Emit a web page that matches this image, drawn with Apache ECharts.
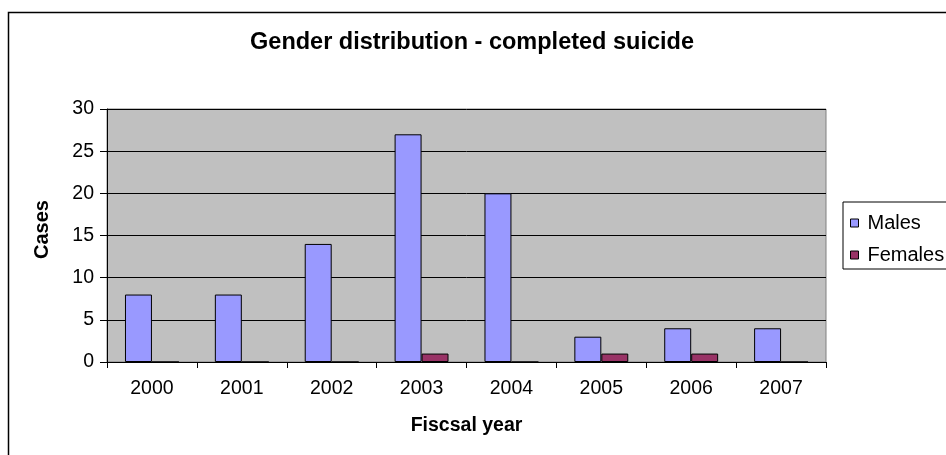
<!DOCTYPE html>
<html>
<head>
<meta charset="utf-8">
<script src="https://cdn.jsdelivr.net/npm/echarts@6/dist/echarts.min.js"></script>
<style>
  html, body { margin: 0; padding: 0; background: #fff; }
  #chart { width: 946px; height: 455px; }
</style>
</head>
<body>
<div id="chart"></div>
<script>
// Completed suicides per fiscal year, split by gender
const fiscalYears = ['2000', '2001', '2002', '2003', '2004', '2005', '2006', '2007'];
const males = [8, 8, 14, 27, 20, 3, 4, 4];
const females = [0, 0, 0, 1, 0, 1, 1, 0];
const yMin = 0, yMax = 30, yStep = 5;

const FONT = "'Liberation Sans', Arial, sans-serif";

const chart = echarts.init(document.getElementById('chart'), null, { renderer: 'canvas' });

chart.setOption({
  animation: false,
  backgroundColor: '#ffffff',
  title: {
    text: 'Gender distribution - completed suicide',
    left: 472,
    top: 31,
    padding: 0,
    textAlign: 'center',
    textStyle: { fontFamily: FONT, fontSize: 23.5, fontWeight: 'bold', color: '#000' }
  },
  legend: {
    orient: 'vertical',
    left: 843,
    top: 202,
    padding: [11, 4, 4, 7],
    borderColor: '#000',
    borderWidth: 1,
    backgroundColor: '#fff',
    itemWidth: 8,
    itemHeight: 8,
    itemGap: 12,
    icon: 'rect',
    itemStyle: { borderColor: '#000', borderWidth: 1 },
    textStyle: { fontFamily: FONT, fontSize: 20, color: '#000', padding: [0, 0, 0, 4] },
    data: ['Males', 'Females']
  },
  grid: {
    left: 107,
    right: 120,
    top: 109,
    bottom: 93,
    show: true,
    backgroundColor: '#C0C0C0',
    borderColor: '#808080',
    borderWidth: 1,
    containLabel: false
  },
  xAxis: {
    type: 'category',
    data: fiscalYears,
    boundaryGap: true,
    name: 'Fiscsal year',
    nameLocation: 'middle',
    nameGap: 54,
    nameTextStyle: { fontFamily: FONT, fontSize: 19.5, fontWeight: 'bold', color: '#000' },
    axisLine: { show: true, lineStyle: { color: '#000', width: 1 } },
    axisTick: { show: true, length: 6, lineStyle: { color: '#000' } },
    axisLabel: { fontFamily: FONT, fontSize: 19.5, color: '#000', margin: 17 },
    splitLine: { show: false }
  },
  yAxis: {
    type: 'value',
    min: yMin,
    max: yMax,
    interval: yStep,
    axisLine: { show: true, lineStyle: { color: '#000', width: 1 } },
    axisTick: { show: true, length: 7, lineStyle: { color: '#000' } },
    axisLabel: { fontFamily: FONT, fontSize: 19.5, color: '#000', margin: 13 },
    splitLine: { show: true, lineStyle: { color: '#000', width: 1 } }
  },
  series: [
    {
      name: 'Males',
      type: 'bar',
      data: males,
      barCategoryGap: '40%',
      barGap: '0%',
      itemStyle: { color: '#9999FF', borderColor: '#000', borderWidth: 1 }
    },
    {
      name: 'Females',
      type: 'bar',
      data: females,
      barCategoryGap: '40%',
      barGap: '0%',
      itemStyle: { color: '#993366', borderColor: '#000', borderWidth: 1 }
    }
  ],
  graphic: [
    {
      // chart frame
      type: 'rect',
      silent: true,
      z: -10,
      shape: { x: 8.5, y: 12.5, width: 1000, height: 500 },
      style: { fill: 'none', stroke: '#000', lineWidth: 1.5 }
    },
    {
      // vertical axis title
      type: 'text',
      x: 42,
      y: 259,
      rotation: Math.PI / 2,
      style: {
        text: 'Cases',
        font: 'bold 20px ' + FONT,
        fill: '#000',
        align: 'left',
        verticalAlign: 'middle'
      }
    }
  ]
});
</script>
</body>
</html>
